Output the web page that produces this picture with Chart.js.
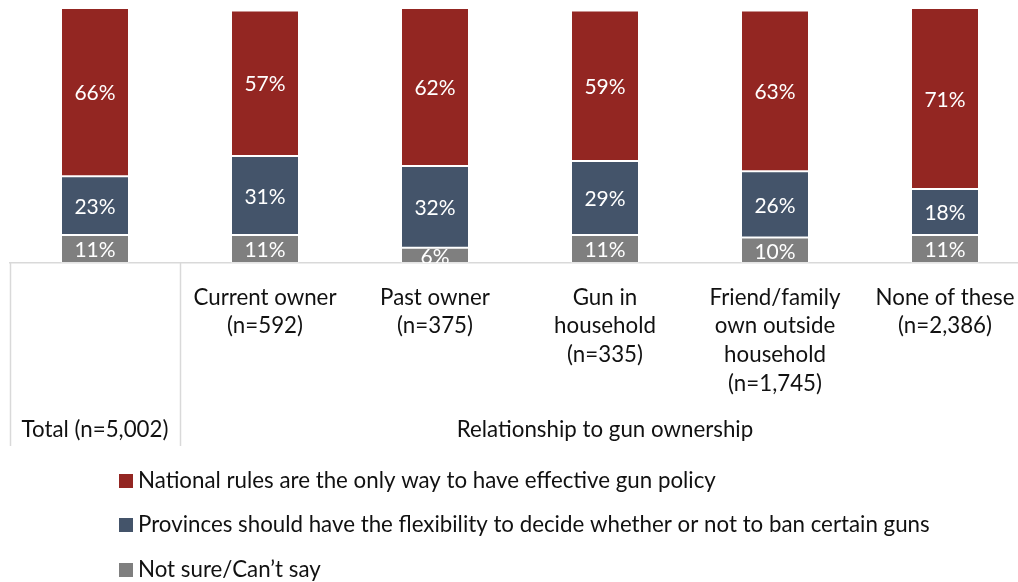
<!DOCTYPE html>
<html>
<head>
<meta charset="utf-8">
<title>Gun policy by relationship to gun ownership</title>
<script src="https://cdn.jsdelivr.net/npm/chart.js@4/dist/chart.umd.min.js"></script>
<style>
  html, body { margin: 0; padding: 0; background: #fff; overflow: hidden; }
  #wrap { width: 1030px; height: 582px; }
</style>
</head>
<body>
<div id="wrap"><canvas id="gunChart" width="1030" height="582"></canvas></div>
<script>
// categories (multi-line tick labels); the first bar is labelled by its group below
const categories = [
  [''],
  ['Current owner', '(n=592)'],
  ['Past owner', '(n=375)'],
  ['Gun in', 'household', '(n=335)'],
  ['Friend/family', 'own outside', 'household', '(n=1,745)'],
  ['None of these', '(n=2,386)']
];
const groups = ['Total (n=5,002)', 'Relationship to gun ownership'];
const groupRanges = [[0, 0], [1, 5]];

const seriesNames = [
  'Not sure/Can\u2019t say',
  'Provinces should have the flexibility to decide whether or not to ban certain guns',
  'National rules are the only way to have effective gun policy'
];
const notSure    = [11, 11, 6, 11, 10, 11];
const provinces  = [23, 31, 32, 29, 26, 18];
const national   = [66, 57, 62, 59, 63, 71];
const colors = ['#7F7F7F', '#44546A', '#932622'];

const FONT = 'Lato, "Open Sans", sans-serif';
const TEXT_SIZE = 22.3;
const AXIS_BOTTOM = 263;

const extras = {
  id: 'extras',
  afterDatasetsDraw(chart) {
    const { ctx, chartArea } = chart;
    ctx.save();
    ctx.beginPath();
    ctx.rect(chartArea.left, chartArea.top, chartArea.width, chartArea.height);
    ctx.clip();
    ctx.font = '21px ' + FONT;
    ctx.fillStyle = '#fff';
    ctx.textAlign = 'center';
    ctx.textBaseline = 'middle';
    chart.data.datasets.forEach((ds, di) => {
      chart.getDatasetMeta(di).data.forEach((bar, i) => {
        ctx.fillText(ds.data[i] + '%', bar.x, (bar.y + bar.base) / 2 + 1.5);
      });
    });
    ctx.restore();
  },
  afterDraw(chart) {
    const { ctx, chartArea, scales: { x } } = chart;
    const half = (x.getPixelForValue(1) - x.getPixelForValue(0)) / 2;
    ctx.save();

    // group separators under the axis
    ctx.strokeStyle = '#d9d9d9';
    ctx.lineWidth = 1.5;
    groupRanges.forEach(r => {
      const lx = Math.round(x.getPixelForValue(r[0]) - half) + 0.5;
      ctx.beginPath();
      ctx.moveTo(lx, chartArea.bottom);
      ctx.lineTo(lx, 446);
      ctx.stroke();
    });

    // group labels
    ctx.font = TEXT_SIZE + 'px ' + FONT;
    ctx.fillStyle = '#111';
    ctx.textAlign = 'center';
    ctx.textBaseline = 'middle';
    groups.forEach((g, gi) => {
      const r = groupRanges[gi];
      const cx = (x.getPixelForValue(r[0]) + x.getPixelForValue(r[1])) / 2;
      ctx.fillText(g, cx, 430);
    });

    // legend, top series first
    ctx.textAlign = 'left';
    const rows = [481, 525, 570];
    chart.data.datasets.slice().reverse().forEach((ds, k) => {
      ctx.fillStyle = ds.backgroundColor;
      ctx.fillRect(119, rows[k] - 7, 14, 14);
      ctx.fillStyle = '#111';
      ctx.fillText(ds.label, 138, rows[k]);
    });
    ctx.restore();
  }
};

new Chart(document.getElementById('gunChart'), {
  type: 'bar',
  data: {
    labels: categories,
    datasets: [
      { label: seriesNames[0], data: notSure, backgroundColor: colors[0] },
      { label: seriesNames[1], data: provinces, backgroundColor: colors[1] },
      { label: seriesNames[2], data: national, backgroundColor: colors[2] }
    ].map(ds => Object.assign(ds, {
      borderColor: 'rgba(255,255,255,0.3)',
      borderWidth: 1,
      borderSkipped: false,
      categoryPercentage: 1,
      barPercentage: 0.4
    }))
  },
  options: {
    responsive: false,
    animation: false,
    layout: { padding: { top: 8, left: 10, right: 0, bottom: 0 } },
    plugins: { legend: { display: false }, tooltip: { enabled: false } },
    scales: {
      x: {
        stacked: true,
        grid: { display: false },
        border: { display: true, color: '#d9d9d9', width: 1.5 },
        ticks: {
          autoSkip: false,
          maxRotation: 0,
          padding: 12,
          color: '#111',
          font: { family: FONT, size: TEXT_SIZE, lineHeight: 1.29 }
        },
        afterFit(scale) { scale.height = 582 - AXIS_BOTTOM; }
      },
      y: {
        stacked: true,
        display: false,
        min: 0,
        max: 100
      }
    }
  },
  plugins: [extras]
});
</script>
</body>
</html>
